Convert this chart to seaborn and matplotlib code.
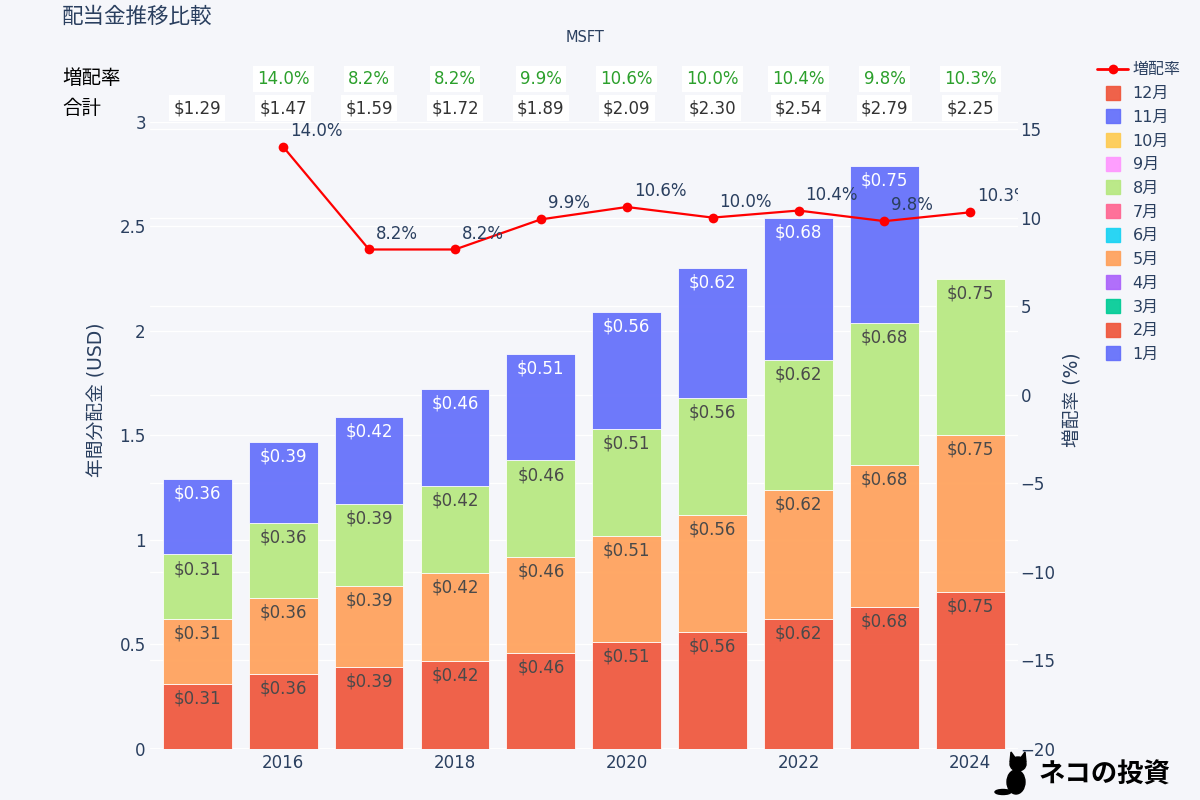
import numpy as np
import pandas as pd
import matplotlib.pyplot as plt
import seaborn as sns

from matplotlib.lines import Line2D
from matplotlib.patches import Ellipse, Polygon
from matplotlib.transforms import blended_transform_factory

# ==========================
# Data (MSFT dividends)
# ==========================

years = [2015, 2016, 2017, 2018, 2019, 2020, 2021, 2022, 2023, 2024]

div_feb = [0.31, 0.36, 0.39, 0.42, 0.46, 0.51, 0.56, 0.62, 0.68, 0.75]
div_may = [0.31, 0.36, 0.39, 0.42, 0.46, 0.51, 0.56, 0.62, 0.68, 0.75]
div_aug = [0.31, 0.36, 0.39, 0.42, 0.46, 0.51, 0.56, 0.62, 0.68, 0.75]
div_nov = [0.36, 0.39, 0.42, 0.46, 0.51, 0.56, 0.62, 0.68, 0.75, np.nan]

totals = [1.29, 1.47, 1.59, 1.72, 1.89, 2.09, 2.30, 2.54, 2.79, 2.25]
growth = [np.nan, 14.0, 8.2, 8.2, 9.9, 10.6, 10.0, 10.4, 9.8, 10.3]

legend_months = ["12月", "11月", "10月", "9月", "8月", "7月",
                 "6月", "5月", "4月", "3月", "2月", "1月"]
legend_colors = ["#EF553B", "#636EFA", "#FECB52", "#FF97FF", "#B6E880", "#FF6692",
                 "#19D3F3", "#FFA15A", "#AB63FA", "#00CC96", "#EF553B", "#636EFA"]

layers = [
    ("2月", div_feb, "#EF553B", "#4a4a4a"),
    ("5月", div_may, "#FFA15A", "#4a4a4a"),
    ("8月", div_aug, "#B6E880", "#4a4a4a"),
    ("11月", div_nov, "#636EFA", "white"),
]

# ==========================
# Style
# ==========================

BG = "#F5F6FA"
INK = "#2a3f5f"

sns.set_theme(style="darkgrid", rc={
    "axes.facecolor": BG,
    "figure.facecolor": BG,
    "grid.color": "white",
    "grid.linewidth": 1.0,
})
plt.rcParams["font.family"] = ["DejaVu Sans", "Noto Sans CJK JP"]

fig = plt.figure(figsize=(12, 8), dpi=100)

# right-axis grid sits behind the bars
ax2 = fig.add_axes([0.125, 0.064, 0.723, 0.7835])
ax = ax2.twinx()
ax3 = ax2.twinx()
ax.yaxis.tick_left()
ax.yaxis.set_label_position("left")

ax2.set_zorder(0)
ax.set_zorder(1)
ax3.set_zorder(2)
ax.patch.set_visible(False)
ax3.patch.set_visible(False)

# ==========================
# Stacked bars
# ==========================

bottom = np.zeros(len(years))

for name, vals, color, txt_color in layers:
    vals = np.array(vals, dtype=float)
    ok = ~np.isnan(vals)
    ax.bar(
        np.array(years)[ok],
        vals[ok],
        bottom=bottom[ok],
        width=0.8,
        color=color,
        alpha=0.92,
        edgecolor="white",
        linewidth=0.6,
        zorder=2
    )
    for yr, b, v in zip(np.array(years)[ok], bottom[ok], vals[ok]):
        ax.annotate(
            f"${v:.2f}",
            (yr, b + v),
            xytext=(0, -4),
            textcoords="offset points",
            ha="center",
            va="top",
            fontsize=12,
            color=txt_color,
            zorder=3
        )
    bottom = bottom + np.nan_to_num(vals)

# ==========================
# Growth line
# ==========================

df_growth = pd.DataFrame({"year": years[1:], "growth": growth[1:]})

sns.lineplot(
    data=df_growth,
    x="year",
    y="growth",
    ax=ax3,
    color="red",
    marker="o",
    markersize=7,
    markeredgewidth=0,
    linewidth=1.6
)

for yr, g in zip(df_growth["year"], df_growth["growth"]):
    ax3.annotate(
        f"{g:.1f}%",
        (yr, g),
        xytext=(5, 5),
        textcoords="offset points",
        ha="left",
        va="bottom",
        fontsize=12,
        color=INK,
        annotation_clip=False,
        clip_on=True
    )

# ==========================
# Axes
# ==========================

for a in (ax, ax2, ax3):
    for s in a.spines.values():
        s.set_visible(False)
    a.tick_params(length=0, labelsize=12, colors=INK)
    a.set_xlabel("")
    a.set_ylabel("")

ax2.set_xlim(2014.45, 2024.55)
ax2.set_xticks([2016, 2018, 2020, 2022, 2024])
ax2.tick_params(axis="x", pad=4)
ax2.grid(axis="x", visible=False)

ax.set_ylim(0, 3.0)
ax.set_yticks([0, 0.5, 1, 1.5, 2, 2.5, 3])
ax.set_yticklabels(["0", "0.5", "1", "1.5", "2", "2.5", "3"])
ax.grid(axis="y", color="white", linewidth=1.0, zorder=0)
ax.grid(axis="x", visible=False)
ax.axhline(0, color="white", linewidth=2, zorder=1)
ax.tick_params(axis="y", pad=3)

ax2.set_ylim(-20, 15.4)
ax2.set_yticks([-20, -15, -10, -5, 0, 5, 10, 15])
ax2.yaxis.tick_right()
ax2.tick_params(axis="y", pad=2)

ax3.set_ylim(-20, 15.4)
ax3.set_yticks([])
ax3.grid(False)

# ==========================
# Header rows
# ==========================

trans = blended_transform_factory(ax2.transData, fig.transFigure)

for yr, g, t in zip(years, growth, totals):
    if not np.isnan(g):
        ax.text(
            yr, 1 - 79 / 800, f"{g:.1f}%",
            transform=trans, ha="center", va="center",
            fontsize=12, color="#2ca02c",
            bbox=dict(boxstyle="square,pad=0.25", fc="white", ec="none")
        )
    ax.text(
        yr, 1 - 108 / 800, f"${t:.2f}",
        transform=trans, ha="center", va="center",
        fontsize=12, color="#333333",
        bbox=dict(boxstyle="square,pad=0.25", fc="white", ec="none")
    )

fig.text(62 / 1200, 1 - 79 / 800, "増配率", ha="left", va="center",
         fontsize=14, color="black")
fig.text(62 / 1200, 1 - 108 / 800, "合計", ha="left", va="center",
         fontsize=14, color="black")

# ==========================
# Titles and axis labels
# ==========================

fig.text(62 / 1200, 1 - 17 / 800, "配当金推移比較", ha="left", va="center",
         fontsize=15.5, color=INK)
fig.text(585 / 1200, 1 - 38 / 800, "MSFT", ha="center", va="center",
         fontsize=10.5, color=INK)

fig.text(97 / 1200, 0.5, "年間分配金 (USD)", rotation=90, ha="center",
         va="center", fontsize=13.5, color=INK)
fig.text(1073 / 1200, 0.5, "増配率 (%)", rotation=90, ha="center",
         va="center", fontsize=13.5, color=INK)

# ==========================
# Legend
# ==========================

handles = [Line2D([], [], color="red", marker="o", markersize=7,
                  markeredgewidth=0, linewidth=2)]
for c in legend_colors:
    handles.append(Line2D([], [], color=c, marker="s", markersize=10,
                          linestyle="none", alpha=0.92))

fig.legend(
    handles,
    ["増配率"] + legend_months,
    loc="upper left",
    bbox_to_anchor=(1091 / 1200, 1 - 56 / 800),
    frameon=False,
    fontsize=11.5,
    labelcolor=INK,
    handlelength=1.9,
    handletextpad=0.3,
    labelspacing=0.545,
    borderaxespad=0
)

# ==========================
# Logo (small cat + text)
# ==========================

fig.patches.append(Ellipse((1016 / 1200, 1 - 782 / 800), 18 / 1200, 24 / 800,
                           transform=fig.transFigure, color="black"))
fig.patches.append(Ellipse((1018 / 1200, 1 - 764 / 800), 16 / 1200, 14 / 800,
                           transform=fig.transFigure, color="black"))
fig.patches.append(Polygon([(1010 / 1200, 1 - 762 / 800), (1011 / 1200, 1 - 752 / 800),
                            (1016 / 1200, 1 - 759 / 800)],
                           transform=fig.transFigure, color="black"))
fig.patches.append(Polygon([(1020 / 1200, 1 - 759 / 800), (1025 / 1200, 1 - 752 / 800),
                            (1026 / 1200, 1 - 762 / 800)],
                           transform=fig.transFigure, color="black"))
fig.patches.append(Ellipse((1003 / 1200, 1 - 792 / 800), 16 / 1200, 5 / 800,
                           transform=fig.transFigure, color="black"))

fig.text(1170 / 1200, 1 - 775 / 800, "ネコの投資", ha="right", va="center",
         fontsize=19, fontweight="bold", color="black",
         family=["Noto Sans CJK JP", "DejaVu Sans"])

plt.savefig("out.png", dpi=100, facecolor=BG)
plt.close()
